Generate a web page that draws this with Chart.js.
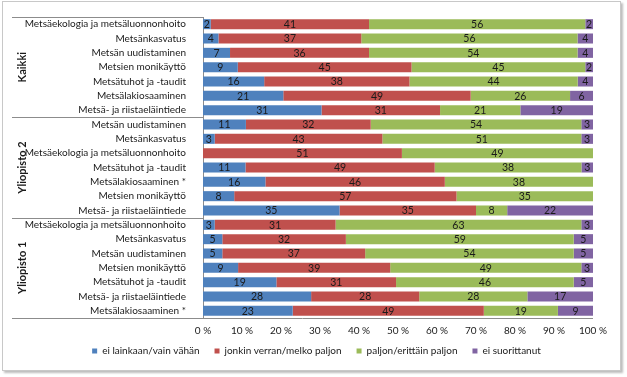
<!DOCTYPE html>
<html>
<head>
<meta charset="utf-8">
<script src="https://cdn.jsdelivr.net/npm/chart.js@4.4.1/dist/chart.umd.min.js"></script>
<style>
  body { margin: 0; background: #fff; }
  #frame { position: absolute; left: 2px; top: 1px; width: 617px; height: 368px; border: 1px solid #c8c8c8; box-shadow: 2px 2px 2px #bdbdbd; }
  #wrap { position: absolute; left: 0; top: 0; width: 627px; height: 377px; }
</style>
</head>
<body>
<div id="frame"></div>
<div id="wrap"><canvas id="surveyChart" width="627" height="377"></canvas></div>
<script>
const groups = ['Kaikki', 'Yliopisto 2', 'Yliopisto 1'];
const groupSizes = [7, 7, 7];
const categories = [
    'Metsäekologia ja metsäluonnonhoito', 'Metsänkasvatus', 'Metsän uudistaminen', 'Metsien monikäyttö',
    'Metsätuhot ja -taudit', 'Metsälakiosaaminen', 'Metsä- ja riistaeläintiede',
    'Metsän uudistaminen', 'Metsänkasvatus', 'Metsäekologia ja metsäluonnonhoito', 'Metsätuhot ja -taudit',
    'Metsälakiosaaminen *', 'Metsien monikäyttö', 'Metsä- ja riistaeläintiede',
    'Metsäekologia ja metsäluonnonhoito', 'Metsänkasvatus', 'Metsän uudistaminen', 'Metsien monikäyttö',
    'Metsätuhot ja -taudit', 'Metsä- ja riistaeläintiede', 'Metsälakiosaaminen *'
];
const seriesNames = ['ei lainkaan/vain vähän', 'jonkin verran/melko paljon', 'paljon/erittäin paljon', 'ei suorittanut'];
const eiLainkaan = [2, 4, 7, 9, 16, 21, 31, 11, 3, 0, 11, 16, 8, 35, 3, 5, 5, 9, 19, 28, 23];
const jonkinVerran = [41, 37, 36, 45, 38, 49, 31, 32, 43, 51, 49, 46, 57, 35, 31, 32, 37, 39, 31, 28, 49];
const paljon = [56, 56, 54, 45, 44, 26, 21, 54, 51, 49, 38, 38, 35, 8, 63, 59, 54, 49, 46, 28, 19];
const eiSuorittanut = [2, 4, 4, 2, 4, 6, 19, 3, 3, 0, 3, 0, 0, 22, 3, 5, 5, 3, 5, 17, 9];
const xTicks = ['0 %', '10 %', '20 %', '30 %', '40 %', '50 %', '60 %', '70 %', '80 %', '90 %', '100 %'];

const colors = ['#4F81BD', '#C0504D', '#9BBB59', '#8064A2'];
const FONT = 'Lato, "Open Sans", sans-serif';

// 100 % stacked, like the original spreadsheet chart
const rawSeries = [eiLainkaan, jonkinVerran, paljon, eiSuorittanut];
const rowSums = categories.map((c, i) => rawSeries.reduce((s, arr) => s + arr[i], 0));

const datasets = rawSeries.map((arr, k) => ({
    label: seriesNames[k],
    data: arr.map((v, i) => v / rowSums[i] * 100),
    raw: arr,
    backgroundColor: colors[k],
    borderWidth: 0,
    barPercentage: 0.7,
    categoryPercentage: 1.0
}));

const valueLabels = {
    id: 'valueLabels',
    afterDatasetsDraw(chart) {
        const ctx = chart.ctx;
        ctx.save();
        ctx.font = '10.5px ' + FONT;
        ctx.fillStyle = '#1a1a1a';
        ctx.textAlign = 'center';
        ctx.textBaseline = 'middle';
        chart.data.datasets.forEach((ds, k) => {
            chart.getDatasetMeta(k).data.forEach((bar, i) => {
                const v = ds.raw[i];
                if (!v) return;
                ctx.fillText(String(v), (bar.x + bar.base) / 2, bar.y + 0.5);
            });
        });
        ctx.restore();
    }
};

const groupAxis = {
    id: 'groupAxis',
    afterLayout(chart) {
        // pull the legend up closer to the axis labels, centre it under the whole frame
        chart.legend.top -= 10;
        chart.legend.bottom -= 10;
        chart.legend.left += 20;
        chart.legend.right += 20;
    },
    afterDraw(chart) {
        const ctx = chart.ctx;
        const y = chart.scales.y;
        const x = chart.scales.x;
        const step = y.getPixelForValue(1) - y.getPixelForValue(0);
        const top = y.getPixelForValue(0) - step / 2;
        ctx.save();
        ctx.strokeStyle = '#8c8c8c';
        ctx.lineWidth = 1;
        let start = 0;
        groups.forEach((g, gi) => {
            const y0 = top + start * step;
            const y1 = top + (start + groupSizes[gi]) * step;
            ctx.beginPath();
            ctx.moveTo(12, Math.round(y0) + 0.5);
            ctx.lineTo(x.left, Math.round(y0) + 0.5);
            ctx.stroke();
            ctx.save();
            ctx.translate(22, (y0 + y1) / 2);
            ctx.rotate(-Math.PI / 2);
            ctx.font = 'bold 11px ' + FONT;
            ctx.fillStyle = '#1a1a1a';
            ctx.textAlign = 'center';
            ctx.textBaseline = 'middle';
            ctx.fillText(g, 0, 0);
            ctx.restore();
            start += groupSizes[gi];
        });
        const yb = Math.round(top + start * step) + 0.5;
        ctx.beginPath();
        ctx.moveTo(12, yb);
        ctx.lineTo(x.right, yb);
        ctx.stroke();
        ctx.restore();
    }
};

const ctx = document.getElementById('surveyChart').getContext('2d');
const surveyChart = new Chart(ctx, {
    type: 'bar',
    data: {
        labels: categories,
        datasets: datasets
    },
    options: {
        indexAxis: 'y',
        responsive: false,
        animation: false,
        layout: {
            padding: { top: 17, right: 34, bottom: 1, left: 0 }
        },
        scales: {
            x: {
                stacked: true,
                min: 0,
                max: 100,
                grid: { display: false, drawTicks: false, tickLength: 0 },
                border: { display: false },
                ticks: {
                    stepSize: 10,
                    autoSkip: false,
                    maxRotation: 0,
                    color: '#1a1a1a',
                    padding: 7,
                    font: { size: 10, family: FONT },
                    callback: (v, i) => xTicks[i]
                },
                afterFit(scale) { scale.height = 23; }
            },
            y: {
                stacked: true,
                grid: { display: false },
                border: { display: true, color: '#8c8c8c' },
                ticks: {
                    autoSkip: false,
                    color: '#1a1a1a',
                    padding: 9,
                    font: { size: 10, family: FONT }
                },
                afterFit(scale) { scale.width = 203; }
            }
        },
        plugins: {
            legend: {
                position: 'bottom',
                labels: {
                    boxWidth: 5,
                    boxHeight: 5,
                    padding: 15,
                    color: '#1a1a1a',
                    font: { size: 10, family: FONT }
                }
            },
            tooltip: { enabled: false }
        }
    },
    plugins: [valueLabels, groupAxis]
});
</script>
</body>
</html>
